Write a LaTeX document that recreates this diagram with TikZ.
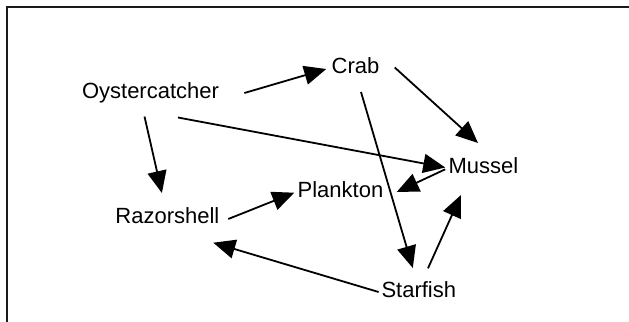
\documentclass[tikz,border=0pt]{standalone}
\usepackage{fontspec}
\setmainfont{Liberation Sans}
\usepackage{tikz}
\usetikzlibrary{arrows.meta}
\definecolor{WInk}{HTML}{000000}
\definecolor{WFrame}{HTML}{1A1A1A}

\begin{document}
\begin{tikzpicture}[
  x=0.5pt, y=-0.5pt,
  every node/.style={font=\fontsize{11}{13}\selectfont, text=WInk, inner sep=0pt, anchor=base},
  feeds/.style={-{Triangle[length=11pt,width=9.5pt]}, draw=WInk, line width=0.9pt},
  frame/.style={draw=WFrame, line width=1pt},
]
\useasboundingbox (0,0) rectangle (629,322);
\draw[frame] (7,322) |- (629,7);
% species
\node (oyster)   at (150.5,98.5) {Oystercatcher};
\node (crab)     at (355.5,73)   {Crab};
\node (mussel)   at (483.5,173)  {Mussel};
\node (plankton) at (340.5,197)  {Plankton};
\node (razor)    at (167.4,223)  {Razorshell};
\node (starfish) at (418.8,297)  {Starfish};
% who eats whom
\draw[feeds] ([shift={(25,-5.5)}]oyster.base east) -- ([shift={(-5,-4)}]crab.base west);
\draw[feeds] ([shift={(27.5,19)}]oyster.base) -- ([shift={(-3,-5.5)}]mussel.base west);
\draw[feeds] ([shift={(-6,18)}]oyster.base) -- ([shift={(-5.5,-30)}]razor.base);
\draw[feeds] ([shift={(15,-5.5)}]crab.base east) -- ([shift={(-5.5,-30)}]mussel.base);
\draw[feeds] ([shift={(5.5,19)}]crab.base) -- ([shift={(-6,-29)}]starfish.base);
\draw[feeds] ([shift={(-3,-3.7)}]mussel.base west) -- ([shift={(13,-5)}]plankton.base east);
\draw[feeds] ([shift={(8.5,-4)}]razor.base east) -- ([shift={(-3,-4.3)}]plankton.base west);
\draw[feeds] ([shift={(-2.5,-5)}]starfish.base west) -- ([shift={(-6.5,19.7)}]razor.base east);
\draw[feeds] ([shift={(9.2,-28.7)}]starfish.base) -- ([shift={(-22.5,22)}]mussel.base);
\end{tikzpicture}
\end{document}
